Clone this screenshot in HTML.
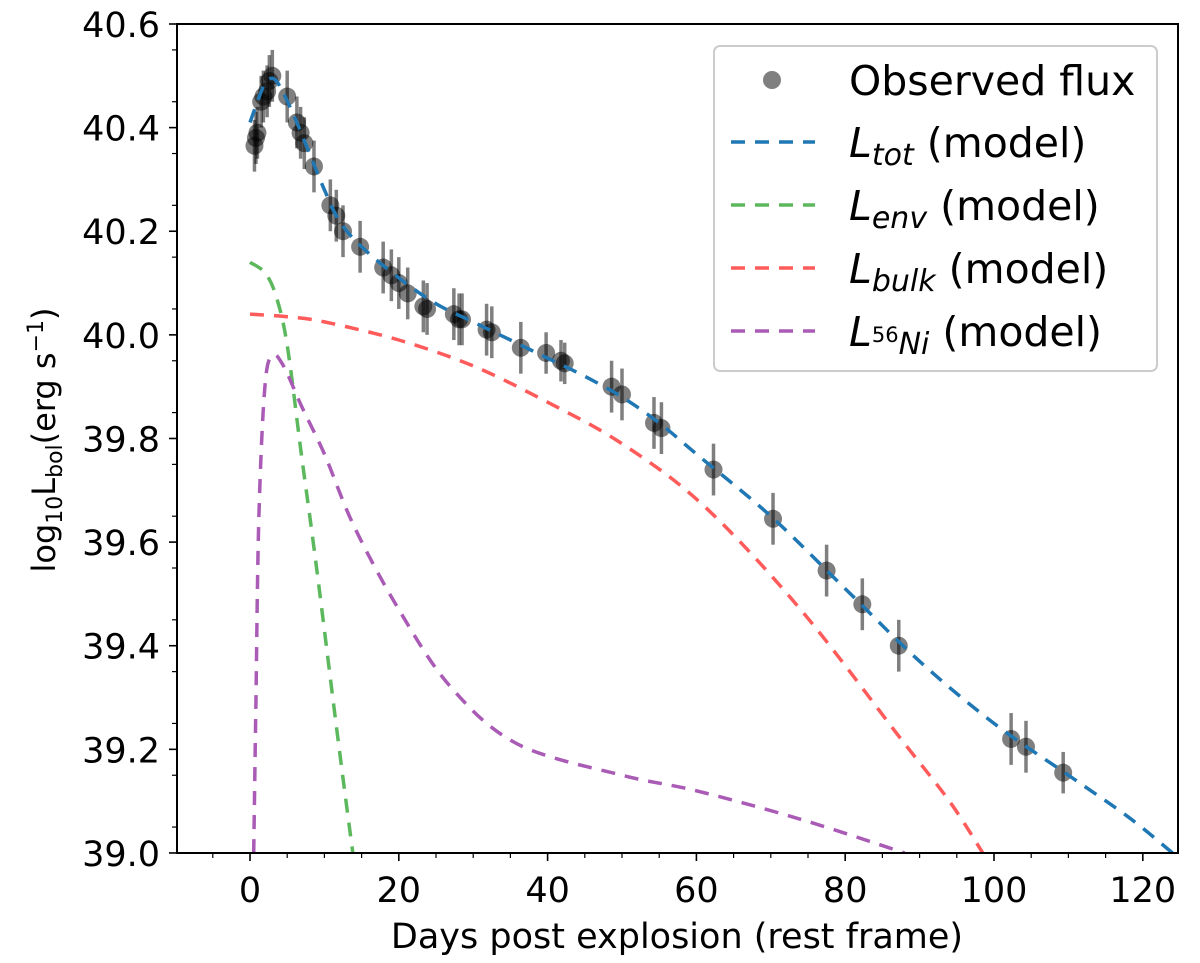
<!DOCTYPE html>
<html><head><meta charset="utf-8"><style>body{margin:0;background:#fff}svg{display:block;font-family:"DejaVu Sans","Liberation Sans",sans-serif}</style></head>
<body>
<svg id="chart" width="1200" height="963">
<defs><clipPath id="clip"><rect x="177" y="24" width="1001" height="829"/></clipPath></defs>
<g id="series" clip-path="url(#clip)"></g>
<rect x="177" y="24" width="1001" height="829" fill="none" stroke="#000" stroke-width="2"/>
<g id="ticks"></g>
<text x="677" y="948" font-size="35" text-anchor="middle">Days post explosion (rest frame)</text>
<text transform="translate(55,440) rotate(-90)" font-size="32" text-anchor="middle">log<tspan font-size="22" dy="7">10</tspan><tspan dy="-7">L</tspan><tspan font-size="22" dy="7">bol</tspan><tspan dy="-7">(erg s</tspan><tspan font-size="22" dy="-12">−1</tspan><tspan dy="12">)</tspan></text>
<g>
<rect x="714" y="46" width="443" height="325" rx="6" fill="#fff" fill-opacity="0.8" stroke="#ccc" stroke-width="2"/>
<circle cx="772" cy="80" r="9" fill="#808080"/>
<text x="849" y="95" font-size="41">Observed flux</text>
<line x1="731" y1="142" x2="815" y2="142" stroke="#1f77b4" stroke-width="3.5" stroke-dasharray="14,10"/>
<text x="849" y="157" font-size="41"><tspan font-style="italic">L</tspan><tspan font-style="italic" font-size="30" dy="8">tot</tspan><tspan dy="-8"> (model)</tspan></text>
<line x1="731" y1="205" x2="815" y2="205" stroke="#5cb85c" stroke-width="3.5" stroke-dasharray="14,10"/>
<text x="849" y="220" font-size="41"><tspan font-style="italic">L</tspan><tspan font-style="italic" font-size="30" dy="8">env</tspan><tspan dy="-8"> (model)</tspan></text>
<line x1="731" y1="268" x2="815" y2="268" stroke="#ff5b5b" stroke-width="3.5" stroke-dasharray="14,10"/>
<text x="849" y="283" font-size="41"><tspan font-style="italic">L</tspan><tspan font-style="italic" font-size="30" dy="8">bulk</tspan><tspan dy="-8"> (model)</tspan></text>
<line x1="731" y1="331" x2="815" y2="331" stroke="#a95bb5" stroke-width="3.5" stroke-dasharray="14,10"/>
<text x="849" y="346" font-size="41"><tspan font-style="italic">L</tspan><tspan font-size="21" dy="-4">56</tspan><tspan font-style="italic" font-size="30" dy="12">Ni</tspan><tspan dy="-8"> (model)</tspan></text>
</g>
</svg>
<script>
const obsDays=[0.6,0.8,1.0,1.5,1.8,2.3,2.6,3.0,5,6.3,6.8,7.3,8.6,10.8,11.6,12.5,14.8,17.9,19,20,21.2,23.3,23.8,27.4,28.1,28.5,31.8,32.5,36.4,39.8,41.8,42.3,48.6,50,54.3,55.3,62.3,70.3,77.5,82.3,87.2,102.3,104.3,109.3];
const obsLum=[40.365,40.38,40.39,40.45,40.46,40.47,40.49,40.5,40.46,40.41,40.39,40.37,40.325,40.25,40.23,40.2,40.17,40.13,40.115,40.1,40.08,40.055,40.05,40.04,40.03,40.03,40.01,40.005,39.975,39.965,39.95,39.945,39.9,39.885,39.83,39.82,39.74,39.645,39.545,39.48,39.4,39.22,39.205,39.155];
const obsErr=[0.05,0.05,0.05,0.05,0.05,0.05,0.05,0.05,0.05,0.05,0.05,0.05,0.05,0.05,0.05,0.05,0.05,0.05,0.05,0.05,0.05,0.05,0.05,0.05,0.05,0.05,0.05,0.05,0.05,0.04,0.04,0.04,0.05,0.05,0.05,0.05,0.05,0.05,0.05,0.05,0.05,0.05,0.05,0.04];
const totDays=[0,1,2,3,4,6,8,10,12,15,20,25,30,35,40,45,50,55,60,70,80,90,100,110,118,124];
const totLum=[40.41,40.45,40.485,40.495,40.48,40.42,40.35,40.28,40.22,40.17,40.11,40.06,40.025,39.99,39.955,39.92,39.88,39.83,39.77,39.65,39.51,39.37,39.25,39.15,39.07,39.0];
const envDays=[0,2,3.5,5,6.9,8.5,10,12,14];
const envLum=[40.14,40.12,40.075,39.98,39.77,39.6,39.43,39.2,38.98];
const bulkDays=[0,5,10,20,30,40,50,61,74,87.5,94,98.5];
const bulkLum=[40.04,40.035,40.025,39.99,39.94,39.87,39.79,39.67,39.47,39.22,39.1,39.0];
const niDays=[0.5,0.8,1.2,2,3,4.5,7,10,14,20,27,36,50,60,74,88];
const niLum=[39.0,39.3,39.65,39.9,39.96,39.94,39.86,39.77,39.63,39.47,39.32,39.21,39.15,39.12,39.065,39.0];
const xTicks=[0,20,40,60,80,100,120];
const yTicks=[39.0,39.2,39.4,39.6,39.8,40.0,40.2,40.4,40.6];

const NS='http://www.w3.org/2000/svg';
const X=d=>250+d*7.44;
const Y=v=>24+(40.6-v)*518.1;
function mk(tag,attrs,parent){const e=document.createElementNS(NS,tag);for(const k in attrs)e.setAttribute(k,attrs[k]);parent.appendChild(e);return e;}
const ticks=document.getElementById('ticks'),series=document.getElementById('series');
xTicks.forEach(t=>{
  const l=mk('line',{x1:X(t),x2:X(t),y1:853,y2:861,stroke:'#000','stroke-width':1.6},ticks);
  
  
  const tx=mk('text',{x:X(t),y:902,'font-size':35,'text-anchor':'middle'},ticks);tx.textContent=t;
  
  
});
for(let m=-5;m<=125;m+=5){if(m%20===0)continue;const x=X(m);if(x<178||x>1177)continue;
  const l=mk('line',{x1:x,x2:x,y1:853,y2:858,stroke:'#000','stroke-width':1.2},ticks);
  
  }
yTicks.forEach(t=>{
  const l=mk('line',{x1:169,x2:177,y1:Y(t),y2:Y(t),stroke:'#000','stroke-width':1.6},ticks);
  
  
  const tx=mk('text',{x:160,y:Y(t)+13,'font-size':35,'text-anchor':'end'},ticks);tx.textContent=t.toFixed(1);
  
  
});
for(let i=0;i<16;i++){const v=39.05+i*0.1;
  const l=mk('line',{x1:172,x2:177,y1:Y(v),y2:Y(v),stroke:'#000','stroke-width':1.2},ticks);
  
  }
function curve(days,lum,color,name){
  const p=days.map((t,i)=>[X(t),Y(lum[i])]);
  let d='M'+p[0][0].toFixed(1)+','+p[0][1].toFixed(1);
  for(let i=0;i<p.length-1;i++){
    const p0=p[Math.max(0,i-1)],p1=p[i],p2=p[i+1],p3=p[Math.min(p.length-1,i+2)];
    const c1=[p1[0]+(p2[0]-p0[0])/6,p1[1]+(p2[1]-p0[1])/6];
    const c2=[p2[0]-(p3[0]-p1[0])/6,p2[1]-(p3[1]-p1[1])/6];
    d+=' C'+c1.map(v=>v.toFixed(1)).join(',')+' '+c2.map(v=>v.toFixed(1)).join(',')+' '+p2.map(v=>v.toFixed(1)).join(',');
  }
  const path=mk('path',{d:d,fill:'none',stroke:color,'stroke-width':3.5,'stroke-dasharray':'14,10'},series);
  
  
}
curve(envDays,envLum,'#5cb85c','env-model-line');
curve(bulkDays,bulkLum,'#ff5b5b','bulk-model-line');
curve(niDays,niLum,'#a95bb5','ni-model-line');
obsDays.forEach((t,i)=>{
  const e=mk('line',{x1:X(t),x2:X(t),y1:Y(obsLum[i]+obsErr[i]),y2:Y(obsLum[i]-obsErr[i]),stroke:'#000','stroke-opacity':0.5,'stroke-width':3.5},series);
  
  
});
obsDays.forEach((t,i)=>{
  const c=mk('circle',{cx:X(t),cy:Y(obsLum[i]),r:9,fill:'#000','fill-opacity':0.5},series);
  
  
});
curve(totDays,totLum,'#1f77b4','tot-model-line');
</script>
</body></html>
